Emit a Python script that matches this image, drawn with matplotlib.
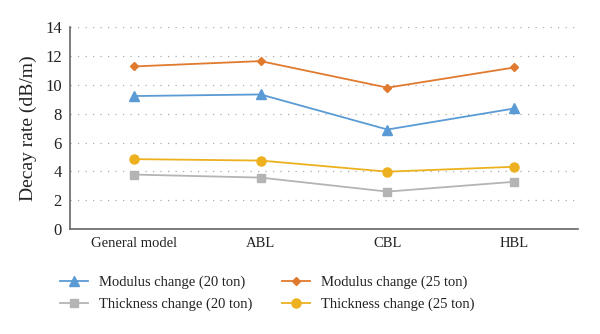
import numpy as np
import matplotlib.pyplot as plt

plt.rcParams['font.family'] = ['Liberation Serif', 'DejaVu Serif']

models = ['General model', 'ABL', 'CBL', 'HBL']
modulus_20 = [9.22, 9.33, 6.90, 8.36]
modulus_25 = [11.27, 11.64, 9.80, 11.20]
thickness_20 = [3.78, 3.57, 2.60, 3.28]
thickness_25 = [4.85, 4.75, 3.98, 4.32]

fig = plt.figure(figsize=(6, 3.34), dpi=100)
ax = fig.add_axes([0.117, 0.314, 0.846, 0.605])

x = np.arange(len(models))
l1, = ax.plot(x, modulus_20, '-^', color='#5B9BD5', lw=1.3, ms=6.5, label='Modulus change (20 ton)')
l2, = ax.plot(x, modulus_25, '-D', color='#E07A2E', lw=1.3, ms=4.5, label='Modulus change (25 ton)')
l3, = ax.plot(x, thickness_20, '-s', color='#B4B4B4', lw=1.3, ms=6, label='Thickness change (20 ton)')
l4, = ax.plot(x, thickness_25, '-o', color='#EDB120', lw=1.3, ms=6.5, label='Thickness change (25 ton)')

ax.set_xlim(-0.5, 3.5)
ax.set_ylim(0, 14)
ax.set_yticks(np.arange(0, 15, 2))
ax.set_xticks(x)
ax.set_xticklabels(models)
ax.tick_params(length=0, colors='#222222', pad=6)
ax.tick_params(axis='x', labelsize=10.5)
ax.tick_params(axis='y', labelsize=12)
ax.yaxis.grid(True, linestyle=(0, (1, 5)), color='#aaaaaa', lw=0.9)
ax.set_axisbelow(True)
for s in ['top', 'right']:
    ax.spines[s].set_visible(False)
ax.spines['left'].set_color('#666666')
ax.spines['bottom'].set_color('#666666')
ax.spines['left'].set_linewidth(1.2)
ax.spines['bottom'].set_linewidth(1.2)
ax.set_ylabel('Decay rate (dB/m)', fontsize=14, color='#222222', labelpad=6)

# row-wise order: modulus on the first row, thickness on the second
fig.legend(handles=[l1, l3, l2, l4], loc='upper left', bbox_to_anchor=(0.078, 0.215),
           ncol=2, frameon=False, fontsize=10.5, handlelength=1.9, columnspacing=2.0,
           handletextpad=0.8, labelspacing=0.6, labelcolor='#222222')

fig.savefig('out.png', dpi=100)
